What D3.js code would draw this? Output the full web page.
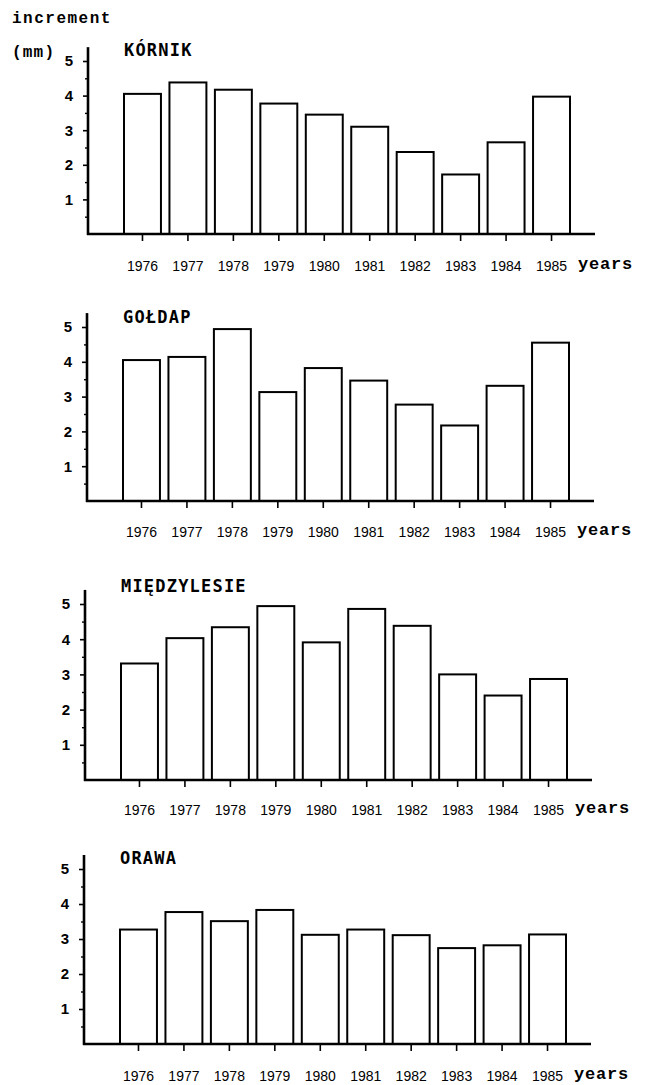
<!DOCTYPE html>
<html>
<head>
<meta charset="utf-8">
<script src="https://cdn.jsdelivr.net/npm/d3@7"></script>
<style>
  html, body { margin: 0; padding: 0; background: #fff; }
  svg { display: block; }
</style>
</head>
<body>
<svg id="chart" width="650" height="1085"></svg>
<script>
// ---------- data ----------
const years = ["1976","1977","1978","1979","1980","1981","1982","1983","1984","1985"];
const stations = ["KÓRNIK","GOŁDAP","MIĘDZYLESIE","ORAWA"];
const kornik      = [4.05, 4.38, 4.17, 3.77, 3.45, 3.10, 2.37, 1.72, 2.65, 3.97];
const goldap      = [4.05, 4.14, 4.94, 3.13, 3.82, 3.46, 2.77, 2.17, 3.31, 4.55];
const miedzylesie = [3.31, 4.03, 4.34, 4.94, 3.91, 4.86, 4.38, 3.00, 2.40, 2.87];
const orawa       = [3.27, 3.77, 3.51, 3.83, 3.12, 3.27, 3.11, 2.74, 2.82, 3.13];
const yTickValues = [1, 2, 3, 4, 5];
const yMinorValues = [0.5, 1.5, 2.5, 3.5, 4.5];
const yLabelLines = ["increment", "(mm)"];
const xLabel = "years";

const series = [kornik, goldap, miedzylesie, orawa];

// ---------- layout (pixels) ----------
const layout = [
  { axisX: 88, base: 234, top5: 61,  lbl: 37, titleDy: 11 },
  { axisX: 87, base: 501, top5: 327, lbl: 36, titleDy: 10 },
  { axisX: 85, base: 780, top5: 604, lbl: 35, titleDy: 18 },
  { axisX: 84, base: 1044, top5: 869, lbl: 37, titleDy: 11 }
];

const svg = d3.select("#chart");
const monoFont = "'Liberation Mono', 'DejaVu Sans Mono', monospace";
const titleFont = "'DejaVu Sans Mono', 'Liberation Mono', monospace";
const numFont = "'Liberation Sans', Arial, sans-serif";

// y-axis title
svg.append("text").attr("x", 12).attr("y", 23)
  .attr("font-family", monoFont).attr("font-weight", "bold")
  .attr("font-size", 16).attr("letter-spacing", 1.5)
  .text(yLabelLines[0]);
svg.append("text").attr("x", 12).attr("y", 57)
  .attr("font-family", monoFont).attr("font-weight", "bold")
  .attr("font-size", 16).attr("letter-spacing", 1.2)
  .text(yLabelLines[1]);

series.forEach((vals, i) => {
  const L = layout[i];
  const g = svg.append("g");

  const y = d3.scaleLinear().domain([0, 5]).range([L.base, L.top5]);
  const x = d3.scaleBand().domain(years)
    .range([L.axisX + 36, L.axisX + 482]).paddingInner(0.187).paddingOuter(0);

  // bars
  g.selectAll("rect.bar").data(vals).join("rect")
    .attr("class", "bar")
    .attr("x", (d, j) => x(years[j]))
    .attr("y", d => y(d))
    .attr("width", x.bandwidth())
    .attr("height", d => y(0) - y(d))
    .attr("fill", "#fff").attr("stroke", "#000").attr("stroke-width", 2);

  // x axis ticks + labels
  const xa = g.append("g").attr("transform", `translate(0,${L.base})`)
    .call(d3.axisBottom(x).tickSize(7).tickPadding(L.lbl - 17));
  xa.select(".domain").remove();
  xa.selectAll(".tick line").attr("stroke", "#000").attr("stroke-width", 1.6);
  xa.selectAll(".tick text").attr("font-family", numFont)
    .attr("font-size", 14).attr("fill", "#000");

  // x axis baseline
  g.append("line").attr("x1", L.axisX - 1).attr("x2", L.axisX + 507)
    .attr("y1", L.base).attr("y2", L.base)
    .attr("stroke", "#000").attr("stroke-width", 2.6);

  // y axis major ticks + labels
  const ya = g.append("g").attr("transform", `translate(${L.axisX},0)`)
    .call(d3.axisLeft(y).tickValues(yTickValues).tickSize(5).tickPadding(10)
      .tickFormat(d3.format("d")));
  ya.select(".domain").remove();
  ya.selectAll(".tick line").attr("stroke", "#000").attr("stroke-width", 1.6);
  ya.selectAll(".tick text").attr("font-family", numFont).attr("font-weight", "bold")
    .attr("font-size", 15).attr("fill", "#000");

  // y axis minor ticks
  const ym = g.append("g").attr("transform", `translate(${L.axisX},0)`)
    .call(d3.axisLeft(y).tickValues(yMinorValues).tickSize(3).tickFormat(""));
  ym.select(".domain").remove();
  ym.selectAll(".tick line").attr("stroke", "#000").attr("stroke-width", 1.4);

  // y axis line
  g.append("line").attr("x1", L.axisX).attr("x2", L.axisX)
    .attr("y1", L.base + 1).attr("y2", y(5.4))
    .attr("stroke", "#000").attr("stroke-width", 2.6);

  // station title
  g.append("text").attr("x", L.axisX + 36).attr("y", L.top5 - L.titleDy + 6)
    .attr("font-family", titleFont).attr("font-weight", "bold")
    .attr("font-size", 17).attr("letter-spacing", 1.2)
    .text(stations[i]);

  // "years"
  g.append("text").attr("x", L.axisX + 490).attr("y", L.base + L.lbl - 2)
    .attr("font-family", monoFont).attr("font-weight", "bold")
    .attr("font-size", 17).attr("letter-spacing", 0.8)
    .text(xLabel);
});
</script>
</body>
</html>
